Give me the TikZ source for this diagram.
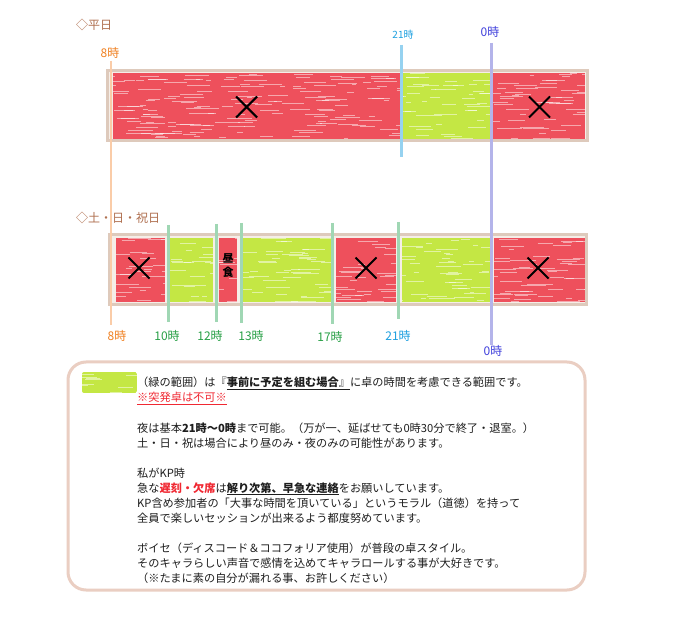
\documentclass[tikz,border=0pt]{standalone}
\usepackage{fontspec}
\newfontfamily\jp{Noto Sans CJK JP}
\usetikzlibrary{shapes.misc}
\definecolor{redfill}{RGB}{238,80,92}
\definecolor{greenfill}{RGB}{196,231,68}
\definecolor{framec}{RGB}{222,202,188}
\definecolor{framebg}{RGB}{245,238,232}
\definecolor{brownc}{RGB}{176,112,80}
\definecolor{orangec}{RGB}{240,128,32}
\definecolor{orangeline}{RGB}{250,204,168}
\definecolor{bluec}{RGB}{64,64,220}
\definecolor{blueline}{RGB}{180,180,234}
\definecolor{skyc}{RGB}{30,160,224}
\definecolor{skyline}{RGB}{150,210,240}
\definecolor{greenc}{RGB}{40,160,70}
\definecolor{greenline}{RGB}{160,215,180}
\definecolor{boxc}{RGB}{234,206,194}
\definecolor{txt}{RGB}{30,30,30}
\definecolor{redtxt}{RGB}{240,40,50}
\tikzset{
  frame/.style={draw=framec, line width=3pt, fill=framebg},
  redseg/.style={fill=redfill},
  greenseg/.style={fill=greenfill},
  vline/.style={line width=3pt},
  streak/.style={draw=white, opacity=0.5, line width=0.9pt},
  xmark/.style={cross out, draw=black, line width=2pt, minimum size=19pt, inner sep=0pt},
  lbl/.style={inner sep=0pt, font=\jp\fontsize{12}{14}\selectfont},
  boxtext/.style={anchor=base west, inner sep=0pt, text=txt, font=\jp\fontsize{11.2}{13}\selectfont},
}
% crayon-like fill: x1 y1 x2 y2 style
\newcommand\crayonfill[5]{%
  \fill[#5] (#1,#2) rectangle (#3,#4);
  \begin{scope}
    \clip (#1,#2) rectangle (#3,#4);
    \pgfmathtruncatemacro\nstreak{max(3,((#3-#1)/12)*((#4-#2)/10))}
    \foreach \i in {1,...,\nstreak}{
      \pgfmathsetmacro\xa{#1-10+rnd*(#3-#1+10)}
      \pgfmathsetmacro\ya{#2+rnd*(#4-#2)}
      \pgfmathsetmacro\ll{4+rnd*22}
      \draw[streak] (\xa,\ya) -- ++(\ll,0);
    }
  \end{scope}}
\begin{document}
\begin{tikzpicture}[x=1pt,y=-1pt]
\pgfmathsetseed{7}
\useasboundingbox[fill=white] (0,0) rectangle (680,617);

% titles
\node[lbl, text=brownc, anchor=west] (t_wd) at (76,25) {◇平日};
\node[lbl, text=brownc, anchor=west] (t_we) at (76,218) {◇土・日・祝日};

% weekday bar
\draw[frame] (107,70.5) rectangle (587,141);
\crayonfill{113}{73}{401}{139}{redseg}
\crayonfill{402}{73}{490}{139}{greenseg}
\crayonfill{493}{73}{585}{139}{redseg}

% weekend bar
\draw[frame] (109,235) rectangle (586,305);
\crayonfill{116}{238}{165}{302}{redseg}
\crayonfill{170}{238}{213}{302}{greenseg}
\crayonfill{219}{238}{237}{302}{redseg}
\crayonfill{243}{238}{331}{302}{greenseg}
\crayonfill{336}{238}{396}{302}{redseg}
\crayonfill{402}{238}{490}{302}{greenseg}
\crayonfill{494}{238}{585}{302}{redseg}

% vertical lines
\draw[vline, draw=orangeline, line width=2.5pt] (111,61) -- (111,325);
\draw[vline, draw=blueline] (491,43) -- (491,345);
\draw[vline, draw=skyline] (401,45) -- (401,157);
\draw[vline, draw=greenline] (168.7,225) -- (168.7,322);
\draw[vline, draw=greenline] (216,224) -- (216,322);
\draw[vline, draw=greenline] (241,223) -- (241,323);
\draw[vline, draw=greenline] (332.7,223) -- (332.7,324);
\draw[vline, draw=greenline] (398,222) -- (398,319);

% crosses
\node[xmark] (x1) at (246.6,107) {};
\node[xmark] (x2) at (539.5,107) {};
\node[xmark] (x3) at (139,268) {};
\node[xmark] (x4) at (366,268) {};
\node[xmark] (x5) at (538,268) {};

% lunch
\node[inner sep=0pt, font=\jp\fontsize{11}{14}\selectfont\bfseries, align=center] (lunch) at (228,266) {昼\\食};

% weekday labels
\node[lbl, text=orangec] (w8) at (110,53) {8時};
\node[lbl, text=skyc, font=\jp\fontsize{10}{12}\selectfont] (w21) at (403,35) {21時};
\node[lbl, text=bluec] (w0) at (490,32) {0時};

% weekend labels
\node[lbl, text=orangec] (e8) at (117,336) {8時};
\node[lbl, text=greenc] (e10) at (167,336) {10時};
\node[lbl, text=greenc] (e12) at (210,336) {12時};
\node[lbl, text=greenc] (e13) at (251,336) {13時};
\node[lbl, text=greenc] (e17) at (330,337) {17時};
\node[lbl, text=skyc] (e21) at (398,336) {21時};
\node[lbl, text=bluec] (e0) at (493,351) {0時};

% info box
\draw[draw=boxc, line width=3pt, rounded corners=18pt] (68,362) rectangle (585,590);
\begin{scope}
  \clip[rounded corners=2pt] (82,372) rectangle (137,393);
  \crayonfill{82}{372}{137}{393}{greenseg}
\end{scope}

\node[boxtext] (l1) at (137,387) {（緑の範囲）は『\underline{\textbf{事前に予定を組む場合}』}に卓の時間を考慮できる範囲です。};
\node[boxtext] (l2) at (137,402) {\textcolor{redtxt}{\underline{※突発卓は不可※}}};
\node[boxtext] (l3) at (137,432) {夜は基本\textbf{21時～0時}まで可能。（万が一、延ばせても0時30分で終了・退室。）};
\node[boxtext] (l4) at (137,447) {土・日・祝は場合により昼のみ・夜のみの可能性があります。};
\node[boxtext] (l5) at (137,477) {私がKP時};
\node[boxtext] (l6) at (137,492) {急な\textcolor{redtxt}{\textbf{遅刻・欠席}}は\underline{\textbf{解り次第、早急な連絡}}をお願いしています。};
\node[boxtext] (l7) at (137,507) {KP含め参加者の「大事な時間を頂いている」というモラル（道徳）を持って};
\node[boxtext] (l8) at (137,522) {全員で楽しいセッションが出来るよう都度努めています。};
\node[boxtext] (l9) at (137,552) {ボイセ（ディスコード＆ココフォリア使用）が普段の卓スタイル。};
\node[boxtext] (l10) at (137,567) {そのキャラらしい声音で感情を込めてキャラロールする事が大好きです。};
\node[boxtext] (l11) at (137,582) {（※たまに素の自分が漏れる事、お許しください）};
\end{tikzpicture}
\end{document}
